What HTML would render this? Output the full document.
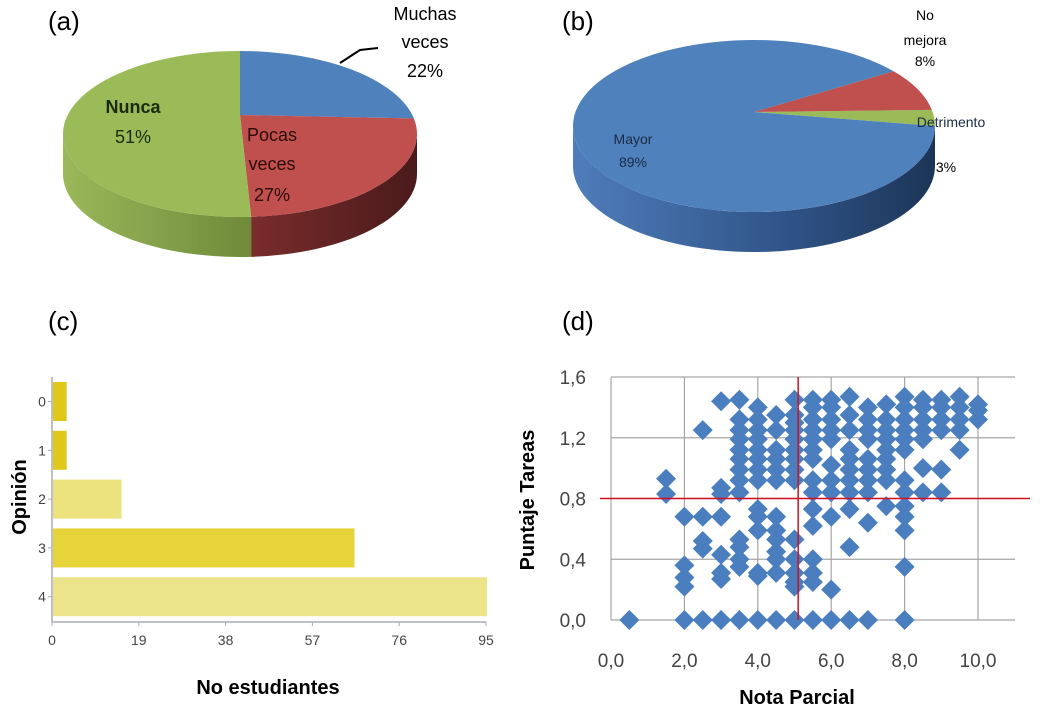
<!DOCTYPE html>
<html><head><meta charset="utf-8"><style>
html,body{margin:0;padding:0;background:#fff;}
svg{display:block;font-family:"Liberation Sans",sans-serif;}
</style></head><body>
<svg id="root" width="1040" height="720" viewBox="0 0 1040 720">
<defs>
<linearGradient id="gSideGreen" x1="0" x2="1" y1="0" y2="0"><stop offset="0" stop-color="#9bb85a"/><stop offset="1" stop-color="#6f8a3a"/></linearGradient>
<linearGradient id="gSideRed" x1="0" x2="1" y1="0" y2="0"><stop offset="0" stop-color="#7a2c2c"/><stop offset="1" stop-color="#4a1a1a"/></linearGradient>
<linearGradient id="gSideBlue" x1="0" x2="1" y1="0" y2="0"><stop offset="0" stop-color="#4f7dbb"/><stop offset="0.6" stop-color="#2f5387"/><stop offset="1" stop-color="#1c3556"/></linearGradient>
</defs>
<text x="48" y="30" font-size="26">(a)</text>
<text x="562" y="30" font-size="26">(b)</text>
<text x="48" y="330" font-size="26">(c)</text>
<text x="562" y="330" font-size="26">(d)</text>
<g id="pieA"></g>
<g id="pieB"></g>
<g id="barC"></g>
<g id="scatD"></g>
</svg>
<script>
var NS="http://www.w3.org/2000/svg";
function mk(tag,attrs,parent){var e=document.createElementNS(NS,tag);for(var k in attrs)e.setAttribute(k,attrs[k]);parent.appendChild(e);return e;}

// ---- Pie A data
var pieALabels=["Muchas veces","Pocas veces","Nunca"];
var pieAValues=[22,27,51];
// ---- Pie B data
var pieBLabels=["Detrimento","No mejora","Mayor"];
var pieBValues=[3,8,89];
// ---- Bar C data
var barCategories=["0","1","2","3","4"];
var barValues=[3,3,15,66,95];
var barTicks=[0,19,38,57,76,95];
// ---- Scatter D data
var scatX=[0.5,1.5,1.5,2,2,2,2,2,2.5,2.5,2.5,2.5,2.5,3,3,3,3,3,3,3,3,
3.5,3.5,3.5,3.5,3.5,3.5,3.5,3.5,3.5,3.5,3.5,3.5,3.5,3.5,
4,4,4,4,4,4,4,4,4,4,4,4,4,4,
4.5,4.5,4.5,4.5,4.5,4.5,4.5,4.5,4.5,4.5,4.5,4.5,4.5,
5,5,5,5,5,5,5,5,5,5,5,5,5,5,5,
5.5,5.5,5.5,5.5,5.5,5.5,5.5,5.5,5.5,5.5,5.5,5.5,5.5,5.5,5.5,
6,6,6,6,6,6,6,6,6,6,6,
6.5,6.5,6.5,6.5,6.5,6.5,6.5,6.5,6.5,6.5,6.5,
7,7,7,7,7,7,7,7,7,7,
7.5,7.5,7.5,7.5,7.5,7.5,7.5,7.5,7.5,
8,8,8,8,8,8,8,8,8,8,8,8,8,
8.5,8.5,8.5,8.5,8.5,8.5,8.5,
9,9,9,9,9,9,
9.5,9.5,9.5,9.5,9.5,
10,10,10];
var scatY=[0,0.93,0.83,0.68,0.36,0.28,0.22,0,1.25,0.68,0.52,0.47,0,1.44,0.87,0.83,0.68,0.43,0.31,0.27,0,
1.45,1.32,1.25,1.19,1.12,1.06,0.99,0.92,0.84,0.53,0.48,0.40,0.35,0,
1.40,1.32,1.25,1.19,1.12,1.06,0.99,0.92,0.73,0.68,0.59,0.31,0.29,0,
1.35,1.25,1.12,1.06,0.99,0.92,0.68,0.59,0.53,0.45,0.40,0.31,0,
1.45,1.35,1.30,1.25,1.19,1.12,1.06,0.99,0.92,0.53,0.40,0.31,0.25,0.22,0,
1.45,1.40,1.32,1.25,1.19,1.12,1.06,0.92,0.84,0.73,0.62,0.40,0.31,0.25,0,
1.45,1.40,1.32,1.25,1.19,1.02,0.92,0.84,0.68,0.20,0,
1.47,1.35,1.25,1.12,1.06,0.99,0.92,0.84,0.73,0.48,0,
1.40,1.32,1.25,1.19,1.06,0.99,0.92,0.84,0.64,0,
1.42,1.32,1.25,1.19,1.12,1.06,0.99,0.92,0.75,
1.47,1.40,1.32,1.25,1.19,1.12,0.92,0.84,0.75,0.68,0.59,0.35,0,
1.45,1.40,1.32,1.25,1.19,1.00,0.84,
1.45,1.40,1.32,1.25,0.99,0.84,
1.47,1.40,1.32,1.25,1.12,
1.42,1.38,1.32];
var scatXTicks=["0,0","2,0","4,0","6,0","8,0","10,0"];
var scatYTicks=["0,0","0,4","0,8","1,2","1,6"];
var refX=5.1, refY=0.8;

function pie3d(g,cx,cy,rx,ry,depth,apexDy,values,startDeg,dir,tops,sides,names){
  var total=values.reduce(function(a,b){return a+b;},0);
  var ang=startDeg, pts=[];
  for(var i=0;i<values.length;i++){var a0=ang;ang+=dir*values[i]/total*360;pts.push([a0,ang]);}
  function P(d){var r=d*Math.PI/180;return [cx+rx*Math.cos(r),cy+ry*Math.sin(r)];}
  for(var i=0;i<values.length;i++){
    var a=Math.min(pts[i][0],pts[i][1]),b=Math.max(pts[i][0],pts[i][1]);
    for(var k=-1;k<=1;k++){
      var lo=Math.max(a+360*k,0),hi=Math.min(b+360*k,180);
      if(hi>lo){
        var p0=P(lo),p1=P(hi);
        var d="M"+p0[0]+","+p0[1]+" A"+rx+","+ry+" 0 0 1 "+p1[0]+","+p1[1]+" L"+p1[0]+","+(p1[1]+depth)+" A"+rx+","+ry+" 0 0 0 "+p0[0]+","+(p0[1]+depth)+" Z";
        var s=mk("path",{d:d,fill:sides[i]},g);
        
        
      }
    }
  }
  for(var i=0;i<values.length;i++){
    var p0=P(pts[i][0]),p1=P(pts[i][1]);
    var span=Math.abs(pts[i][1]-pts[i][0]);
    var sweep=dir>0?1:0;
    var d="M"+cx+","+(cy+apexDy)+" L"+p0[0]+","+p0[1]+" A"+rx+","+ry+" 0 "+(span>180?1:0)+" "+sweep+" "+p1[0]+","+p1[1]+" Z";
    var s=mk("path",{d:d,fill:tops[i]},g);
    
    
  }
}
function txt(g,x,y,str,size,anchor,extra){var t=mk("text",{x:x,y:y,"font-size":size,"text-anchor":anchor||"middle"},g);t.textContent=str;if(extra)for(var k in extra)t.setAttribute(k,extra[k]);return t;}

// ===== Pie A
(function(){
  var g=document.getElementById("pieA");
  pie3d(g,240,134,177,83,40,-19,pieAValues,-90,1,["#4f81bd","#c0504d","#9bbb59"],["#3a5f8c","url(#gSideRed)","url(#gSideGreen)"],["muchas-veces","pocas-veces","nunca"]);
  var l=mk("path",{d:"M340,63 L360,50 L378,48",stroke:"#000","stroke-width":2,fill:"none"},g);
  
  
  var t;
  t=txt(g,425,20,"Muchas",18);
  t=txt(g,425,48,"veces",18);
  t=txt(g,425,77,pieAValues[0]+"%",18);
  t=txt(g,133,113,"Nunca",18,"middle",{"font-weight":"bold",fill:"#1a2a0a"});
  t=txt(g,133,143,pieAValues[2]+"%",18,"middle",{fill:"#1a2a0a"});
  t=txt(g,272,141,"Pocas",18,"middle",{fill:"#2a0a0a"});
  t=txt(g,272,170,"veces",18,"middle",{fill:"#2a0a0a"});
  t=txt(g,272,201,pieAValues[1]+"%",18,"middle",{fill:"#2a0a0a"});
})();

// ===== Pie B
(function(){
  var g=document.getElementById("pieB");
  pie3d(g,754,126,181,86,40,-14,pieBValues,0,-1,["#9bbb59","#c0504d","#4f81bd"],["#6f8a3a","#7a2c2c","url(#gSideBlue)"],["detrimento","no-mejora","mayor"]);
  var t;
  t=txt(g,925,20,"No",14);
  t=txt(g,925,45,"mejora",14);
  t=txt(g,925,66,pieBValues[1]+"%",14);
  t=txt(g,951,127,"Detrimento",14,"middle",{fill:"#1a2a44"});
  t=txt(g,946,172,pieBValues[0]+"%",14);
  t=txt(g,633,144,"Mayor",14,"middle",{fill:"#1a2a44"});
  t=txt(g,633,167,pieBValues[2]+"%",14,"middle",{fill:"#1a2a44"});
})();

// ===== Bar C
(function(){
  var g=document.getElementById("barC");
  var x0=52,x1=486,maxV=95;
  function X(v){return x0+(x1-x0)*v/maxV;}
  var rowTop=382,rowStep=48.8,barH=39;
  var colors=["#e0c81a","#e0c81a","#ece27e","#e6d43a","#ece48a"];
  for(var i=0;i<barCategories.length;i++){
    var y=rowTop+i*rowStep;
    var r=mk("rect",{x:X(0)+1,y:y,width:X(barValues[i])-X(0),height:barH,fill:colors[i]},g);
    
    
    var t=txt(g,42,y+barH/2+5,barCategories[i],14,"middle",{fill:"#444"});
    
    
    mk("line",{x1:48,x2:52,y1:y+barH/2,y2:y+barH/2,stroke:"#aab"},g);
  }
  var a=mk("line",{x1:52,x2:52,y1:377,y2:622,stroke:"#aab","stroke-width":1.5},g);
  
  a=mk("line",{x1:52,x2:486,y1:622,y2:622,stroke:"#aab","stroke-width":1.5},g);
  
  for(var j=0;j<barTicks.length;j++){
    mk("line",{x1:X(barTicks[j]),x2:X(barTicks[j]),y1:622,y2:626,stroke:"#aab"},g);
    var t=txt(g,X(barTicks[j]),645,String(barTicks[j]),14,"middle",{fill:"#444"});
    
    
  }
  var t=txt(g,268,694,"No estudiantes",20,"middle",{"font-weight":"bold"});
  
  t=txt(g,0,0,"Opinión",20,"middle",{"font-weight":"bold",transform:"translate(26,497) rotate(-90)"});
  
})();

// ===== Scatter D
(function(){
  var g=document.getElementById("scatD");
  var px0=611,px1=978,py0=620,py1=377;
  function X(v){return px0+(px1-px0)*v/10;}
  function Y(v){return py0-(py0-py1)*v/1.6;}
  for(var i=0;i<scatYTicks.length;i++){
    var v=i*0.4,y=Y(v);
    if(i>0){var l=mk("line",{x1:px0,x2:1015,y1:y,y2:y,stroke:"#a6a6a6","stroke-width":1.2},g);
      }
    var t=txt(g,586,y+7,scatYTicks[i],19,"end",{fill:"#444"});
    
  }
  for(var i=0;i<scatXTicks.length;i++){
    var v=i*2,x=X(v);
    var l=mk("line",{x1:x,x2:x,y1:py1,y2:py0,stroke:"#a6a6a6","stroke-width":1.2},g);
    
    var t=txt(g,x,667,scatXTicks[i],19,"middle",{fill:"#444"});
    
  }
  var l=mk("line",{x1:px0,x2:1015,y1:py0,y2:py0,stroke:"#a6a6a6","stroke-width":1.2},g);
  
  for(var i=0;i<scatX.length;i++){
    var x=X(scatX[i]),y=Y(scatY[i]),r=10;
    var p=mk("path",{d:"M"+x+","+(y-r)+" L"+(x+r)+","+y+" L"+x+","+(y+r)+" L"+(x-r)+","+y+" Z",fill:"#4a7ebf"},g);
    
    
  }
  l=mk("line",{x1:X(refX),x2:X(refX),y1:py1,y2:py0,stroke:"#d01020","stroke-width":1.5},g);
  
  l=mk("line",{x1:600,x2:1030,y1:Y(refY),y2:Y(refY),stroke:"#d01020","stroke-width":1.5},g);
  
  var t=txt(g,797,704,"Nota Parcial",20,"middle",{"font-weight":"bold"});
  
  t=txt(g,0,0,"Puntaje Tareas",20,"middle",{"font-weight":"bold",transform:"translate(534,500) rotate(-90)"});
  
})();
</script>
</body></html>
